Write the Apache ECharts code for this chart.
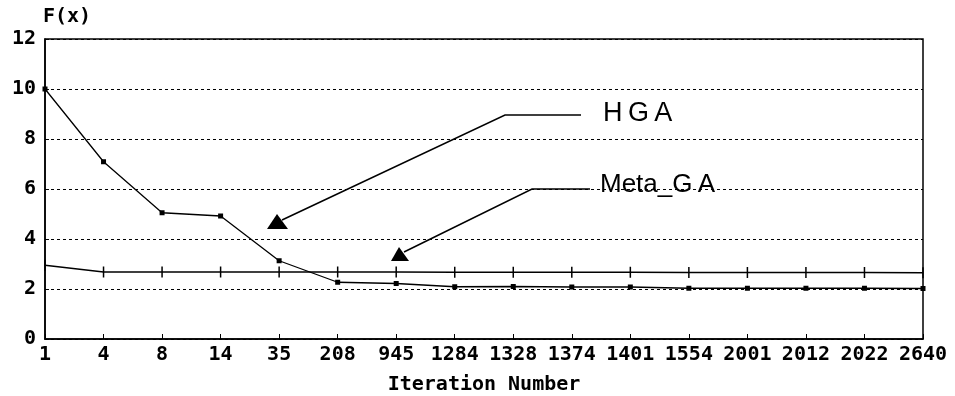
<!DOCTYPE html>
<html><head><meta charset="utf-8">
<script src="https://cdn.jsdelivr.net/npm/echarts@6/dist/echarts.min.js"></script>
<style>html,body{margin:0;padding:0;background:#fff}#c{width:955px;height:396px}</style>
</head><body><div id="c"></div>
<script>
var categories = ['1','4','8','14','35','208','945','1284','1328','1374','1401','1554','2001','2012','2022','2640'];
var hgaValues = [10.0, 7.09, 5.05, 4.92, 3.13, 2.27, 2.22, 2.09, 2.1, 2.08, 2.08, 2.03, 2.03, 2.03, 2.03, 2.02];
var metaValues = [2.95, 2.68, 2.68, 2.68, 2.68, 2.68, 2.68, 2.67, 2.67, 2.67, 2.67, 2.66, 2.66, 2.66, 2.66, 2.65];
var yTicks = [0, 2, 4, 6, 8, 10, 12];

var FONT = '"DejaVu Sans Mono", monospace';
var SP = '\u2009';
var chart = echarts.init(document.getElementById('c'));
chart.setOption({
  animation: false,
  backgroundColor: '#fff',
  grid: { left: 45, right: 32, top: 39, bottom: 57, show: true, borderColor: '#000', borderWidth: 1.5,
          containLabel: false, outerBoundsMode: 'none' },
  xAxis: {
    type: 'category', data: categories, boundaryGap: false,
    name: 'Iteration Number', nameLocation: 'middle', nameGap: 36,
    nameTextStyle: { fontFamily: FONT, fontWeight: 'bold', fontSize: 20, color: '#000' },
    axisLine: { lineStyle: { color: '#000', width: 1.5 } },
    axisTick: { inside: true, length: 5, lineStyle: { color: '#000' } },
    axisLabel: { fontFamily: FONT, fontWeight: 'bold', fontSize: 20, color: '#000', margin: 6, interval: 0 },
    splitLine: { show: false }
  },
  yAxis: {
    type: 'value', min: yTicks[0], max: yTicks[yTicks.length - 1], interval: 2,
    axisLine: { show: true, lineStyle: { color: '#000', width: 1.5 } },
    axisTick: { show: true, inside: true, length: 4, lineStyle: { color: '#000' } },
    axisLabel: { fontFamily: FONT, fontWeight: 'bold', fontSize: 20, color: '#000', margin: 9 },
    splitLine: { show: true, lineStyle: { color: '#000', type: [3, 3], width: 1 } }
  },
  graphic: [
    { type: 'text', left: 43, top: 7, style: { text: 'F(x)', font: 'bold 20px ' + FONT, fill: '#000' } },
    { type: 'text', left: 603, top: 100, style: { text: 'H' + SP + 'G' + SP + 'A', font: '27px "Liberation Sans", Arial, sans-serif', fill: '#000' } },
    { type: 'text', left: 600, top: 172, style: { text: 'Meta_G' + SP + 'A', font: '26px "Liberation Sans", Arial, sans-serif', fill: '#000' } },
    { type: 'polyline', shape: { points: [[581, 115], [505, 115], [282, 220]] }, style: { stroke: '#000', lineWidth: 1.5, fill: null } },
    { type: 'polygon', shape: { points: [[267, 229], [288, 229], [277, 214]] }, style: { fill: '#000' } },
    { type: 'polyline', shape: { points: [[590, 189], [532, 189], [404, 252]] }, style: { stroke: '#000', lineWidth: 1.5, fill: null } },
    { type: 'polygon', shape: { points: [[391, 261], [409, 261], [399, 247]] }, style: { fill: '#000' } }
  ],
  series: [
    {
      name: 'HGA', type: 'line', data: hgaValues,
      symbol: 'rect', symbolSize: 5, showSymbol: true,
      lineStyle: { color: '#000', width: 1.3 }, itemStyle: { color: '#000' }
    },
    {
      name: 'Meta_GA', type: 'line', data: metaValues,
      symbol: 'rect', symbolSize: [1.5, 11], showSymbol: true,
      lineStyle: { color: '#000', width: 1.3 }, itemStyle: { color: '#000' }
    }
  ]
});
</script></body></html>
